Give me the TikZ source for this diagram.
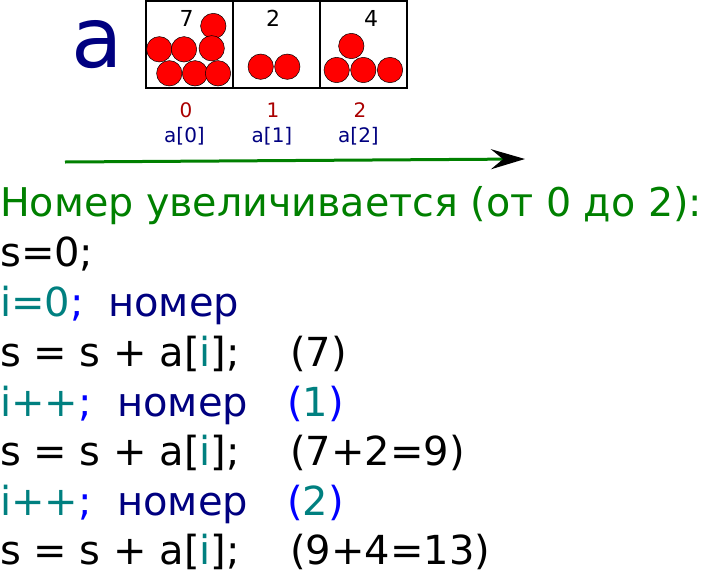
\documentclass[tikz,border=0pt]{standalone}
\usepackage{fontspec}
\setmainfont{DejaVu Sans}
\usetikzlibrary{arrows.meta}
\definecolor{navyc}{HTML}{000080}
\definecolor{tealc}{HTML}{008080}
\definecolor{bluec}{HTML}{0000FF}
\definecolor{greenc}{HTML}{008000}
\definecolor{redc}{HTML}{AA0000}
\definecolor{ballc}{HTML}{FF0000}
\tikzset{
  box/.style={draw=black, line width=1.3pt, minimum width=87pt, minimum height=87pt, inner sep=0pt},
  ball/.style={circle, draw=black, line width=0.5pt, fill=ballc, minimum size=25.4pt, inner sep=0pt},
  cnt/.style={font=\fontsize{22}{24}\selectfont, inner sep=0pt, anchor=base},
  idx/.style={font=\fontsize{20}{22}\selectfont, text=redc, inner sep=0pt, anchor=base},
  ref/.style={font=\fontsize{20}{22}\selectfont, text=navyc, inner sep=0pt, anchor=base},
  code/.style={font=\fontsize{40}{48}\selectfont, inner sep=0pt, anchor=base west},
}
\begin{document}
\begin{tikzpicture}[x=1pt,y=-1pt]
\useasboundingbox (0,0) rectangle (702,571);
\node[font=\fontsize{84}{90}\selectfont, text=navyc, inner sep=0pt, anchor=base] (biga) at (97.5,67) {a};
\node[box] (b0) at (189.5,44.5) {};
\node[box] (b1) at (276.5,44.5) {};
\node[box] (b2) at (363.5,44.5) {};
% balls box 0
\node[ball] (p1) at (213.3,26) {};
\node[ball] (p2) at (159.3,49.3) {};
\node[ball] (p3) at (184,49.3) {};
\node[ball] (p4) at (211.7,48.3) {};
\node[ball] (p5) at (169.3,73.3) {};
\node[ball] (p6) at (195,73.3) {};
\node[ball] (p7) at (218,73.3) {};
% box 1
\node[ball] (q1) at (260.7,66.7) {};
\node[ball] (q2) at (287.3,66.7) {};
% box 2
\node[ball] (r1) at (351.3,46) {};
\node[ball] (r2) at (336.7,70) {};
\node[ball] (r3) at (363.3,70) {};
\node[ball] (r4) at (390,70) {};
\node[cnt] (c0) at (186.5,26.7) {7};
\node[cnt] (c1) at (273,26.7) {2};
\node[cnt] (c2) at (371,26.7) {4};
\node[idx] (i0) at (186,117) {0};
\node[idx] (i1) at (273,117) {1};
\node[idx] (i2) at (360,117) {2};
\node[ref] (a0) at (184.5,142) {a[0]};
\node[ref] (a1) at (272,142) {a[1]};
\node[ref] (a2) at (358.5,142) {a[2]};
\coordinate (arS) at (65,162);
\coordinate (arE) at (525,159);
\draw[greenc, line width=3pt, -{Stealth[length=34pt, width=20pt, inset=12pt, color=black]}] (arS) -- (arE);
\node[code, text=greenc, font=\fontsize{39.6}{48}\selectfont] (title) at (0,216) {Номер увеличивается (от 0 до 2):};
\node[code] (l1) at (0,266) {s=0;};
\node[code] (l2) at (0,316) {\textcolor{tealc}{i=0}\textcolor{bluec}{;}};
\node[code, text=navyc] (l2b) at (108,316) {номер};
\node[code] (l3) at (0,366) {s = s + a[\textcolor{tealc}{i}];};
\node[code] (l3b) at (290,366) {(7)};
\node[code] (l4) at (0,416) {\textcolor{tealc}{i++}\textcolor{bluec}{;}};
\node[code, text=navyc] (l4b) at (117,416) {номер};
\node[code, text=bluec] (l4c) at (287,416) {(\textcolor{tealc}{1})};
\node[code] (l5) at (0,465) {s = s + a[\textcolor{tealc}{i}];};
\node[code] (l5b) at (290,465) {(7+2=9)};
\node[code] (l6) at (0,515) {\textcolor{tealc}{i++}\textcolor{bluec}{;}};
\node[code, text=navyc] (l6b) at (117,515) {номер};
\node[code, text=bluec] (l6c) at (287,515) {(\textcolor{tealc}{2})};
\node[code] (l7) at (0,564) {s = s + a[\textcolor{tealc}{i}];};
\node[code] (l7b) at (290,564) {(9+4=13)};
\end{tikzpicture}
\end{document}
